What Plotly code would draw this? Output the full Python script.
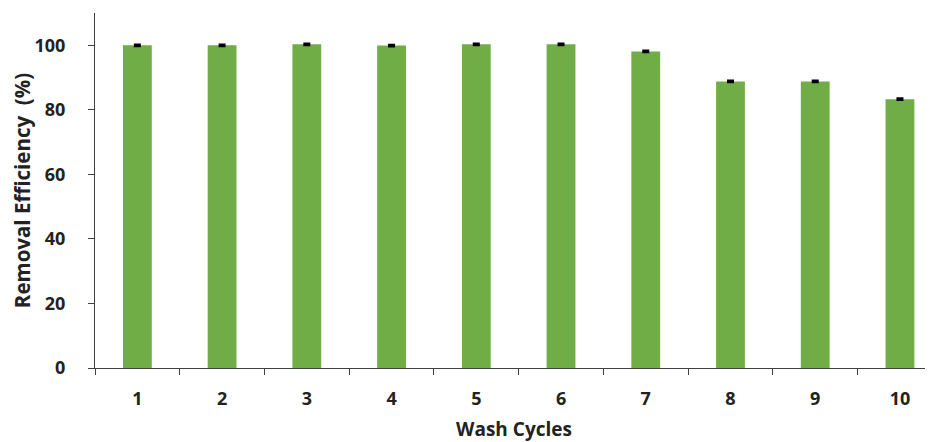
import plotly.graph_objects as go

cycles = ["1", "2", "3", "4", "5", "6", "7", "8", "9", "10"]
efficiency = [100.0, 100.0, 100.3, 99.9, 100.3, 100.3, 98.1, 88.8, 88.8, 83.3]
errors = [0.2, 0.2, 0.2, 0.2, 0.2, 0.2, 0.2, 0.2, 0.2, 0.2]
y_ticks = [0, 20, 40, 60, 80, 100]

fig = go.Figure()
fig.add_trace(go.Bar(
    x=cycles, y=efficiency,
    marker=dict(color="#70AD47", line=dict(width=0)),
    width=0.34,
    error_y=dict(type="data", array=errors, visible=True, color="black", thickness=2.5, width=3.5),
))

font = "Open Sans"
fig.update_layout(
    width=925, height=434,
    margin=dict(l=87, r=0, t=5, b=74),
    plot_bgcolor="white", paper_bgcolor="white",
    showlegend=False,
    xaxis=dict(
        type="category",
        range=[-0.5, 9.39],
        automargin=False,
        showline=True, linecolor="#404040", linewidth=1.2,
        ticks="outside", tickson="boundaries", ticklen=6, tickcolor="#404040",
        ticklabelstandoff=14,
        tickfont=dict(family=font, size=18, color="#222", weight="bold"),
        title=dict(text="Wash Cycles", font=dict(family=font, size=19, color="#222", weight="bold"), standoff=18),
        showgrid=False,
    ),
    yaxis=dict(
        range=[0, 110],
        automargin=False,
        tickvals=y_ticks,
        showline=True, linecolor="#404040", linewidth=1.2,
        ticks="outside", ticklen=6, tickcolor="#404040",
        ticklabelstandoff=19,
        tickfont=dict(family=font, size=18, color="#222", weight="bold"),
        title=dict(text="Removal Efficiency  (%)", font=dict(family=font, size=20.5, color="#222", weight="bold"), standoff=3),
        showgrid=False, zeroline=False,
    ),
)

fig.write_html("out.html")
